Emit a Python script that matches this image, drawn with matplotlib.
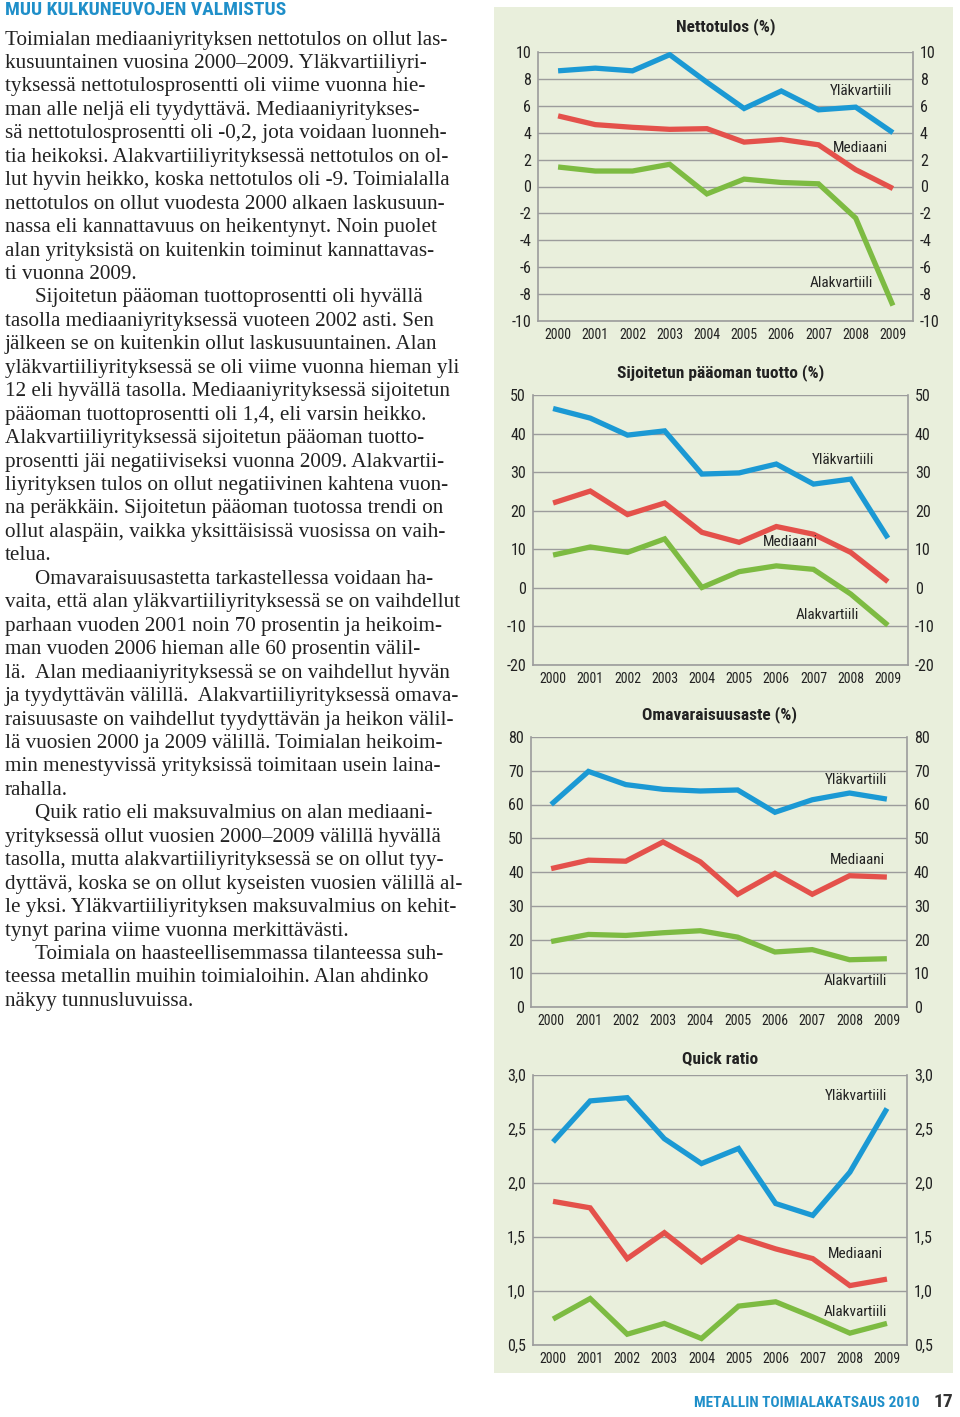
import matplotlib
matplotlib.use("Agg")
import matplotlib.pyplot as plt
from matplotlib import font_manager
from matplotlib.patches import Rectangle

W, H = 960, 1417

years = list(range(2000, 2010))

# Nettotulos (%)
netto_yla = [8.6, 8.8, 8.6, 9.8, 7.75, 5.8, 7.1, 5.7, 5.9, 4.0]
netto_med = [5.25, 4.6, 4.4, 4.25, 4.3, 3.3, 3.5, 3.1, 1.25, -0.15]
netto_ala = [1.45, 1.15, 1.15, 1.65, -0.55, 0.55, 0.3, 0.2, -2.35, -8.85]

# Sijoitetun pääoman tuotto (%)
spt_yla = [46.5, 44.0, 39.6, 40.7, 29.5, 29.8, 32.1, 26.9, 28.2, 12.9]
spt_med = [22.0, 25.1, 19.0, 22.0, 14.4, 11.8, 15.9, 13.9, 9.2, 1.6]
spt_ala = [8.5, 10.6, 9.2, 12.7, 0.1, 4.2, 5.7, 4.8, -1.6, -9.7]

# Omavaraisuusaste (%)
oma_yla = [60.0, 69.8, 65.9, 64.5, 64.0, 64.3, 57.7, 61.4, 63.4, 61.6]
oma_med = [41.0, 43.5, 43.2, 48.9, 43.0, 33.4, 39.6, 33.4, 38.9, 38.5]
oma_ala = [19.4, 21.5, 21.2, 22.0, 22.6, 20.7, 16.3, 17.0, 14.0, 14.3]

# Quick ratio
qr_yla = [2.38, 2.76, 2.79, 2.41, 2.18, 2.32, 1.81, 1.70, 2.10, 2.69]
qr_med = [1.83, 1.77, 1.30, 1.54, 1.27, 1.50, 1.39, 1.30, 1.05, 1.11]
qr_ala = [0.74, 0.93, 0.60, 0.70, 0.56, 0.86, 0.90, 0.76, 0.61, 0.70]

titles = ["Nettotulos (%)", "Sijoitetun pääoman tuotto (%)",
          "Omavaraisuusaste (%)", "Quick ratio"]
series_names = ["Yläkvartiili", "Mediaani", "Alakvartiili"]

netto_ticks = [-10, -8, -6, -4, -2, 0, 2, 4, 6, 8, 10]
spt_ticks = [-20, -10, 0, 10, 20, 30, 40, 50]
oma_ticks = [0, 10, 20, 30, 40, 50, 60, 70, 80]
qr_ticks = [0.5, 1.0, 1.5, 2.0, 2.5, 3.0]
qr_labels = ["0,5", "1,0", "1,5", "2,0", "2,5", "3,0"]

body_lines = [
    "Toimialan mediaaniyrityksen nettotulos on ollut las-",
    "kusuuntainen vuosina 2000–2009. Yläkvartiiliyri-",
    "tyksessä nettotulosprosentti oli viime vuonna hie-",
    "man alle neljä eli tyydyttävä. Mediaaniyritykses-",
    "sä nettotulosprosentti oli -0,2, jota voidaan luonneh-",
    "tia heikoksi. Alakvartiiliyrityksessä nettotulos on ol-",
    "lut hyvin heikko, koska nettotulos oli -9. Toimialalla",
    "nettotulos on ollut vuodesta 2000 alkaen laskusuun-",
    "nassa eli kannattavuus on heikentynyt. Noin puolet",
    "alan yrityksistä on kuitenkin toiminut kannattavas-",
    "ti vuonna 2009.",
    "\tSijoitetun pääoman tuottoprosentti oli hyvällä",
    "tasolla mediaaniyrityksessä vuoteen 2002 asti. Sen",
    "jälkeen se on kuitenkin ollut laskusuuntainen. Alan",
    "yläkvartiiliyrityksessä se oli viime vuonna hieman yli",
    "12 eli hyvällä tasolla. Mediaaniyrityksessä sijoitetun",
    "pääoman tuottoprosentti oli 1,4, eli varsin heikko.",
    "Alakvartiiliyrityksessä sijoitetun pääoman tuotto-",
    "prosentti jäi negatiiviseksi vuonna 2009. Alakvartii-",
    "liyrityksen tulos on ollut negatiivinen kahtena vuon-",
    "na peräkkäin. Sijoitetun pääoman tuotossa trendi on",
    "ollut alaspäin, vaikka yksittäisissä vuosissa on vaih-",
    "telua.",
    "\tOmavaraisuusastetta tarkastellessa voidaan ha-",
    "vaita, että alan yläkvartiiliyrityksessä se on vaihdellut",
    "parhaan vuoden 2001 noin 70 prosentin ja heikoim-",
    "man vuoden 2006 hieman alle 60 prosentin välil-",
    "lä.  Alan mediaaniyrityksessä se on vaihdellut hyvän",
    "ja tyydyttävän välillä.  Alakvartiiliyrityksessä omava-",
    "raisuusaste on vaihdellut tyydyttävän ja heikon välil-",
    "lä vuosien 2000 ja 2009 välillä. Toimialan heikoim-",
    "min menestyvissä yrityksissä toimitaan usein laina-",
    "rahalla.",
    "\tQuik ratio eli maksuvalmius on alan mediaani-",
    "yrityksessä ollut vuosien 2000–2009 välillä hyvällä",
    "tasolla, mutta alakvartiiliyrityksessä se on ollut tyy-",
    "dyttävä, koska se on ollut kyseisten vuosien välillä al-",
    "le yksi. Yläkvartiiliyrityksen maksuvalmius on kehit-",
    "tynyt parina viime vuonna merkittävästi.",
    "\tToimiala on haasteellisemmassa tilanteessa suh-",
    "teessa metallin muihin toimialoihin. Alan ahdinko",
    "näkyy tunnusluvuissa.",
]

BLUE = "#1b99d4"
RED = "#e4514b"
GREEN = "#7dbb42"
PANEL = "#e9efdc"
GRID = "#9c9c9c"
HEAD = "#1f8fc9"
INK = "#222222"

plt.rcParams["axes.unicode_minus"] = False
names = {f.name for f in font_manager.fontManager.ttflist}
COND = "Roboto"
for cand in ["Roboto Condensed", "Liberation Sans Narrow", "Open Sans Condensed",
             "Noto Sans Condensed", "DejaVu Sans Condensed"]:
    if cand in names:
        COND = cand
        break
SERIF = "Liberation Serif"


def fx(x):
    return x / W


def fy(y):
    return 1 - y / H


fig = plt.figure(figsize=(W / 100, H / 100), dpi=100)
fig.patch.set_facecolor("white")

# green panel behind the charts
fig.add_artist(Rectangle((fx(494), fy(1373)), fx(953) - fx(494), fy(7) - fy(1373),
                         transform=fig.transFigure, facecolor=PANEL,
                         edgecolor="none", zorder=0))

# axes boxes in pixels: left, top, right, bottom, title y
boxes = [
    (538, 52, 913, 321, 27),
    (533, 395, 908, 665, 373),
    (531, 737, 907, 1007, 715),
    (533, 1075, 907, 1345, 1060),
]
data = [
    (netto_yla, netto_med, netto_ala),
    (spt_yla, spt_med, spt_ala),
    (oma_yla, oma_med, oma_ala),
    (qr_yla, qr_med, qr_ala),
]
ticks = [netto_ticks, spt_ticks, oma_ticks, qr_ticks]
tick_labels = [[str(t) for t in netto_ticks], [str(t) for t in spt_ticks],
               [str(t) for t in oma_ticks], qr_labels]
# series label anchors (right edge, centre) in data units
label_pos = [
    [(2008.98, 7.1), (2008.87, 2.85), (2008.47, -7.2)],
    [(2008.63, 33.2), (2007.13, 11.9), (2008.22, -7.0)],
    [(2009.0, 67.3), (2008.95, 43.6), (2009.0, 7.7)],
    [(2009.0, 2.81), (2008.9, 1.34), (2009.0, 0.81)],
]

for i in range(4):
    l, t, r, b, ty = boxes[i]
    ax = fig.add_axes([fx(l), fy(b), fx(r) - fx(l), fy(t) - fy(b)])
    ax.set_facecolor("none")
    for vals, col in zip(data[i], [BLUE, RED, GREEN]):
        ax.plot(years, vals, color=col, lw=3.8, solid_joinstyle="miter",
                solid_capstyle="butt", zorder=3)
    ax.set_xlim(1999.46, 2009.54)
    ax.set_ylim(ticks[i][0], ticks[i][-1])
    ax.set_yticks(ticks[i])
    ax.set_yticklabels(tick_labels[i])
    ax.set_xticks(years)
    ax.set_xticklabels([str(y) for y in years])
    ax.grid(axis="y", color=GRID, lw=1.0, zorder=1)
    ax.set_axisbelow(True)
    for s in ["left", "right", "bottom"]:
        ax.spines[s].set_color(GRID)
        ax.spines[s].set_linewidth(1.2)
    ax.spines["top"].set_visible(False)
    ax.tick_params(axis="y", length=0, pad=5, labelsize=11.5, labelright=True,
                   labelcolor=INK)
    ax.tick_params(axis="x", length=0, pad=5, labelsize=10, labelcolor=INK)
    for tk in ax.yaxis.get_major_ticks() + ax.xaxis.get_major_ticks():
        tk.label1.set_family(COND)
        tk.label2.set_family(COND)
    fig.text(fx((l + r) / 2), fy(ty), titles[i], ha="center", va="center",
             family=COND, weight="bold", fontsize=12.5, color=INK)
    for name, (lx, ly) in zip(series_names, label_pos[i]):
        ax.text(lx, ly, name, ha="right", va="center", family=COND,
                fontsize=11, color=INK, zorder=4)

# heading
fig.text(fx(5), fy(10), "MUU KULKUNEUVOJEN VALMISTUS", ha="left", va="center",
         family=COND, weight="bold", fontsize=14, color=HEAD)

# body text
y0 = 40
step = 23.45
for k, line in enumerate(body_lines):
    x = 5
    if line.startswith("\t"):
        x = 35
        line = line[1:]
    fig.text(fx(x), fy(y0 + k * step), line, ha="left", va="center",
             family=SERIF, fontsize=15.2, color=INK)

# footer
fig.text(fx(920), fy(1403), "METALLIN TOIMIALAKATSAUS 2010", ha="right",
         va="center", family=COND, weight="bold", fontsize=11, color=HEAD)
fig.text(fx(953), fy(1402), "17", ha="right", va="center", family=COND,
         weight="bold", fontsize=14, color="#333333")

fig.savefig("out.png", dpi=100)
